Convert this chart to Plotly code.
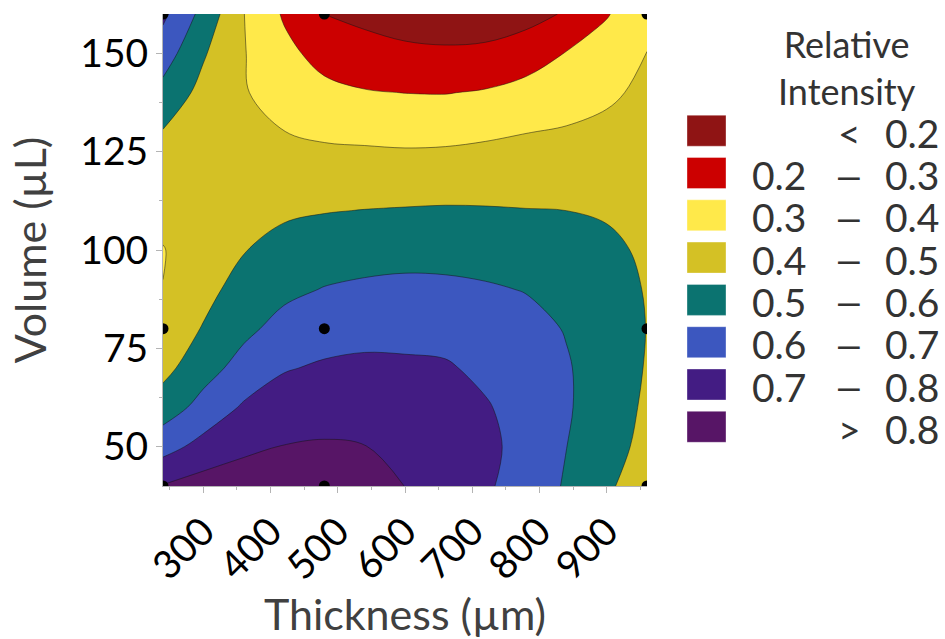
import plotly.graph_objects as go

# ---------------- data ----------------
thickness = [240, 300, 360, 420, 480, 540, 600, 660, 720, 780, 840, 900, 960]
volume = [40, 50, 60, 70, 80, 90, 100, 110, 120, 130, 140, 150, 160]

# relative intensity, one list per thickness column (bottom -> top in volume)
col_240 = [0.805, 0.662, 0.549, 0.47, 0.435, 0.401, 0.397, 0.42, 0.46, 0.495, 0.568, 0.649, 0.72]
col_300 = [0.841, 0.733, 0.633, 0.5625, 0.506, 0.47, 0.44, 0.425, 0.43, 0.445, 0.47, 0.51, 0.57]
col_360 = [0.85, 0.781, 0.712, 0.635, 0.578, 0.537, 0.496, 0.46, 0.44, 0.425, 0.406, 0.405, 0.402]
col_420 = [0.857, 0.803, 0.748, 0.693, 0.632, 0.578, 0.531, 0.486, 0.443, 0.401, 0.364, 0.327, 0.289]
col_480 = [0.858, 0.809, 0.761, 0.712, 0.659, 0.604, 0.55, 0.496, 0.441, 0.385, 0.326, 0.265, 0.198]
col_540 = [0.843, 0.802, 0.76, 0.719, 0.671, 0.617, 0.56, 0.502, 0.442, 0.378, 0.306, 0.24, 0.174]
col_600 = [0.799, 0.771, 0.743, 0.714, 0.674, 0.623, 0.567, 0.506, 0.441, 0.372, 0.299, 0.224, 0.147]
col_660 = [0.775, 0.76, 0.738, 0.71, 0.667, 0.62, 0.566, 0.509, 0.444, 0.374, 0.297, 0.218, 0.133]
col_720 = [0.712, 0.725, 0.708, 0.679, 0.644, 0.61, 0.561, 0.507, 0.448, 0.385, 0.308, 0.224, 0.139]
col_780 = [0.66, 0.664, 0.662, 0.652, 0.63, 0.596, 0.55, 0.503, 0.451, 0.398, 0.332, 0.254, 0.164]
col_840 = [0.59, 0.601, 0.61, 0.608, 0.595, 0.565, 0.535, 0.5, 0.454, 0.408, 0.357, 0.304, 0.21]
col_900 = [0.51, 0.535, 0.55, 0.555, 0.553, 0.54, 0.52, 0.49, 0.455, 0.422, 0.384, 0.339, 0.294]
col_960 = [0.465, 0.475, 0.485, 0.494, 0.498, 0.494, 0.485, 0.465, 0.45, 0.435, 0.42, 0.402, 0.36]

columns = [col_240, col_300, col_360, col_420, col_480, col_540, col_600,
           col_660, col_720, col_780, col_840, col_900, col_960]

# design points
design_x = [240, 480, 960, 240, 480, 960, 240, 480, 960]
design_y = [40, 40, 40, 80, 80, 80, 160, 160, 160]

# legend bands (top to bottom)
band_colors = ["#8f1414", "#cc0000", "#ffe94a", "#d4c125", "#0b7370", "#3c57bf", "#431c83", "#571566"]
band_low = ["", "0.2", "0.3", "0.4", "0.5", "0.6", "0.7", ""]
band_sym = ["<", "–", "–", "–", "–", "–", "–", ">"]
band_high = ["0.2", "0.3", "0.4", "0.5", "0.6", "0.7", "0.8", "0.8"]

x_ticks = [300, 400, 500, 600, 700, 800, 900]
y_ticks = [50, 75, 100, 125, 150]

# ---------------- figure ----------------
z = [[columns[j][i] for j in range(len(thickness))] for i in range(len(volume))]

n = len(band_colors)
colorscale = []
for i, c in enumerate(band_colors):
    colorscale.append([i / n, c])
    colorscale.append([(i + 1) / n, c])

FONT = "Lato"

fig = go.Figure()
fig.add_trace(go.Contour(
    x=thickness, y=volume, z=z,
    autocontour=False,
    contours=dict(start=0.2, end=0.8, size=0.1, coloring="fill"),
    colorscale=colorscale,
    showscale=False,
    line=dict(color="rgba(20,20,20,0.85)", width=0.6, smoothing=1.0),
    hoverinfo="skip",
))
fig.add_trace(go.Scatter(
    x=design_x, y=design_y, mode="markers",
    marker=dict(color="black", size=11),
    cliponaxis=True, showlegend=False, hoverinfo="skip",
))

# plot area in pixels (for legend placement)
W, H = 945, 639
L, R, T, B = 163, 298, 14, 153
pw, ph = W - L - R, H - T - B


def px_x(px):
    return (px - L) / pw


def px_y(py):
    return (H - B - py) / ph


shapes = []
annotations = []
for i, c in enumerate(band_colors):
    cy = 130.7 + 42.3 * i
    shapes.append(dict(type="rect", xref="paper", yref="paper",
                       x0=px_x(687), x1=px_x(726), y0=px_y(cy + 15.5), y1=px_y(cy - 15.5),
                       fillcolor=c, line=dict(color="rgba(255,255,255,0.35)", width=1)))
    tf = dict(family=FONT, size=39, color="#333333")
    if band_low[i]:
        annotations.append(dict(xref="paper", yref="paper", x=px_x(750), y=px_y(cy + 2),
                                text=band_low[i], showarrow=False, xanchor="left",
                                yanchor="middle", font=tf))
    sym_family = FONT if band_sym[i] != "–" else "Liberation Sans"
    annotations.append(dict(xref="paper", yref="paper", x=px_x(849), y=px_y(cy + 2),
                            text=band_sym[i], showarrow=False, xanchor="center",
                            yanchor="middle",
                            font=dict(family=sym_family, size=39, color="#333333")))
    annotations.append(dict(xref="paper", yref="paper", x=px_x(941), y=px_y(cy + 2),
                            text=band_high[i], showarrow=False, xanchor="right",
                            yanchor="middle", font=tf))

annotations.append(dict(xref="paper", yref="paper", x=px_x(847), y=px_y(20),
                        text="Relative<br>Intensity", showarrow=False,
                        xanchor="center", yanchor="top", align="center",
                        font=dict(family=FONT, size=36, color="#333333")))

axis_common = dict(
    showline=True, linecolor="#b4b4b4", linewidth=1,
    ticks="outside", tickcolor="#b4b4b4", ticklen=6, tickwidth=1,
    showgrid=False, zeroline=False, automargin=False,
    tickfont=dict(family=FONT, size=39, color="black"),
)

fig.update_layout(
    width=W, height=H,
    margin=dict(l=L, r=R, t=T, b=B, autoexpand=False),
    paper_bgcolor="white", plot_bgcolor="white",
    showlegend=False,
    shapes=shapes, annotations=annotations,
    xaxis=dict(range=[240, 960], tickvals=x_ticks, tickangle=-45,
               minor=dict(ticks="outside", dtick=50, tick0=0, ticklen=3, tickcolor="#b4b4b4"),
               title=dict(text="Thickness (µm)", standoff=16,
                          font=dict(family=FONT, size=43, color="#404040")),
               **axis_common),
    yaxis=dict(range=[40, 160], tickvals=y_ticks,
               minor=dict(ticks="outside", dtick=12.5, tick0=0, ticklen=3, tickcolor="#b4b4b4"),
               title=dict(text="Volume (µL)", standoff=20,
                          font=dict(family=FONT, size=43, color="#404040")),
               **axis_common),
)

fig.write_html("out.html")
